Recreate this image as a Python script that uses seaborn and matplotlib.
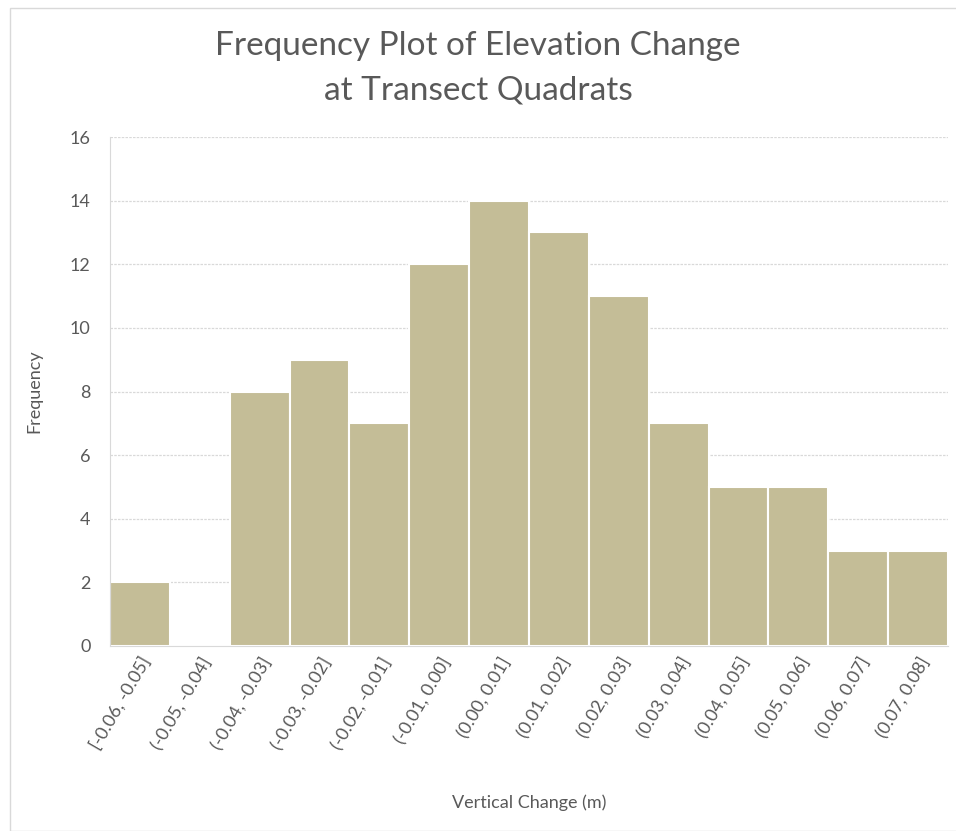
import pandas as pd
import seaborn as sns
import matplotlib.pyplot as plt

# Data
bins = ["[-0.06, -0.05]", "(-0.05, -0.04]", "(-0.04, -0.03]", "(-0.03, -0.02]",
        "(-0.02, -0.01]", "(-0.01, 0.00]", "(0.00, 0.01]", "(0.01, 0.02]",
        "(0.02, 0.03]", "(0.03, 0.04]", "(0.04, 0.05]", "(0.05, 0.06]",
        "(0.06, 0.07]", "(0.07, 0.08]"]
counts = [2, 0, 8, 9, 7, 12, 14, 13, 11, 7, 5, 5, 3, 3]
yticks = [0, 2, 4, 6, 8, 10, 12, 14, 16]

df = pd.DataFrame({"bin": bins, "count": counts})

sns.set_style("white")
plt.rcParams['font.family'] = ['Lato', 'DejaVu Sans']

fig = plt.figure(figsize=(9.56, 8.31), dpi=100)
ax = fig.add_axes([110 / 956, 1 - 646 / 831, (948 - 110) / 956, (646 - 137) / 831])

sns.barplot(data=df, x="bin", y="count", color="#C4BD97", saturation=1,
            width=1.0, edgecolor="white", linewidth=1.5, ax=ax, zorder=2)

ax.set_ylim(0, 16)
ax.set_xlim(-0.5, len(bins) - 0.5)
ax.set_yticks(yticks)
ax.yaxis.grid(True, color="#D9D9D9", linewidth=0.9, linestyle=(0, (2, 1)), zorder=0)
ax.set_axisbelow(True)
for s in ["top", "right"]:
    ax.spines[s].set_visible(False)
ax.spines["left"].set_color("#D9D9D9")
ax.spines["bottom"].set_color("#D9D9D9")

ax.tick_params(axis="y", labelsize=13, colors="#595959", length=0, pad=14)
ax.tick_params(axis="x", labelsize=13, colors="#595959", length=0, pad=6)
plt.setp(ax.get_xticklabels(), rotation=60, ha="right", rotation_mode="anchor")

ax.set_xlabel("Vertical Change (m)", fontsize=13, color="#595959", labelpad=30)
ax.set_ylabel("Frequency", fontsize=13, color="#595959", labelpad=20)

fig.text(0.5, 1 - 46 / 831, "Frequency Plot of Elevation Change", ha="center",
         va="center", fontsize=24, color="#595959")
fig.text(0.5, 1 - 91 / 831, "at Transect Quadrats", ha="center",
         va="center", fontsize=24, color="#595959")

# thin chart border like the Excel frame
border = plt.Rectangle((10 / 956, 0), 1, 1 - 8 / 831, transform=fig.transFigure,
                       fill=False, edgecolor="#D9D9D9", linewidth=1)
fig.patches.append(border)

fig.savefig("out.png", dpi=100)
